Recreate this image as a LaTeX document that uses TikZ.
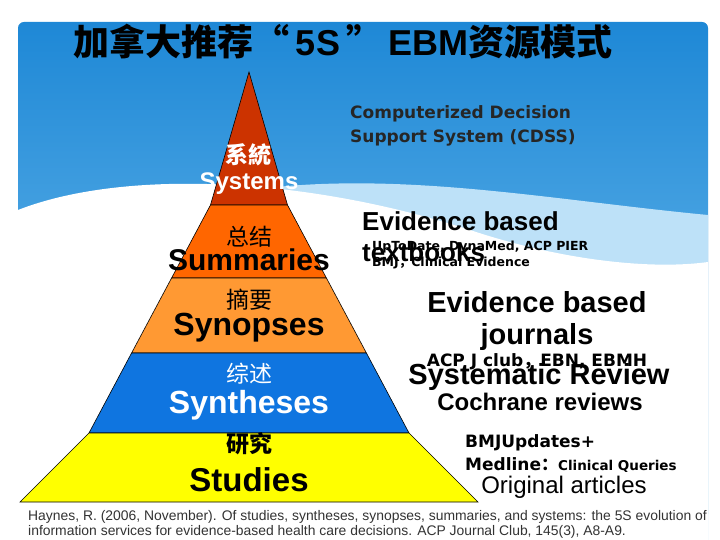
\documentclass[tikz,border=0pt]{standalone}
\usepackage{fontspec}
\setmainfont{Liberation Sans}
\newfontfamily\cjk{Noto Sans CJK SC}
\newfontfamily\dv{DejaVu Sans}
\begin{document}
\begin{tikzpicture}[x=1pt,y=-1pt,
  lay/.style={draw=black,line width=0.6pt},
  pl/.style={font=\bfseries\fontsize{32}{34}\selectfont,inner sep=0pt},
  zh/.style={font=\cjk\fontsize{23}{25}\selectfont,inner sep=0pt},
  sm/.style={font=\dv\bfseries\fontsize{17}{19}\selectfont,inner sep=0pt,anchor=west},
  big/.style={font=\bfseries\fontsize{29}{31}\selectfont,inner sep=0pt}]
\useasboundingbox (0,0) rectangle (720,540);
\fill[white] (0,0) rectangle (720,540);
\definecolor{bluetop}{HTML}{1E88D6}
\definecolor{bluelow}{HTML}{7CC4F0}
\shade[top color=bluetop,bottom color=bluelow,rounded corners=6pt] (18,22) rectangle (708,520);
\fill[white!50!bluelow] (250,190) .. controls (400,170) and (550,200) .. (708,215) -- (708,540) -- (18,540) -- cycle;
\fill[white] (18,210) .. controls (120,170) and (300,175) .. (470,230) .. controls (560,260) and (650,270) .. (708,262) -- (708,540) -- (18,540) -- cycle;
% pyramid
\definecolor{c1}{HTML}{CC3300}\definecolor{c2}{HTML}{FF6600}\definecolor{c3}{HTML}{FF9933}
\definecolor{c4}{HTML}{0F75E0}\definecolor{c5}{HTML}{FFFF00}
\fill[c1,lay] (249,72) -- (210.5,205) -- (287.5,205) -- cycle;
\fill[c2,lay] (210.5,205) -- (171.6,278) -- (326.4,278) -- (287.5,205) -- cycle;
\fill[c3,lay] (171.6,278) -- (131.6,353) -- (366.4,353) -- (326.4,278) -- cycle;
\fill[c4,lay] (131.6,353) -- (89,433) -- (409,433) -- (366.4,353) -- cycle;
\fill[c5,lay] (89,433) -- (20,502) -- (478,502) -- (409,433) -- cycle;
\node[zh,white,font=\cjk\bfseries\fontsize{23}{25}\selectfont] (z1) at (248,155) {系統};
\node[white,font=\bfseries\fontsize{24}{26}\selectfont,inner sep=0pt] (e1) at (249,184) {Systems};
\node[zh] (z2) at (249,237) {总结};
\node[pl,font=\bfseries\fontsize{30}{32}\selectfont] (e2) at (249,260) {Summaries};
\node[zh] (z3) at (249,300) {摘要};
\node[pl] (e3) at (249,328) {Synopses};
\node[zh,white] (z4) at (249,374) {综述};
\node[pl,white] (e4) at (249,405) {Syntheses};
\node[zh,font=\cjk\bfseries\fontsize{23}{25}\selectfont] (z5) at (249,444) {研究};
\node[pl,font=\bfseries\fontsize{33}{35}\selectfont] (e5) at (249,480) {Studies};
% title
\node[font=\bfseries\fontsize{36}{40}\selectfont,inner sep=0pt] (t) at (343,42) {{\cjk\bfseries 加拿大推荐“}\,5S\,{\cjk\bfseries ”}\,EBM{\cjk\bfseries 资源模式}};
% right texts
\node[sm,text=black!85] (cd1) at (350,114) {Computerized Decision};
\node[sm,text=black!85] (cd2) at (350,138) {Support System (CDSS)};
\node[big,anchor=west,font=\bfseries\fontsize{26}{28}\selectfont] (tb1) at (362,221) {Evidence based};
\node[big,anchor=west,font=\bfseries\fontsize{26}{28}\selectfont] (tb2) at (362,252) {textbooks};
\node[sm,font=\dv\bfseries\fontsize{12.5}{14}\selectfont] (u1) at (372,247) {UpToDate, DynaMed, ACP PIER};
\node[sm,font=\dv\bfseries\fontsize{12.5}{14}\selectfont] (u2) at (372,263) {BMJ{\cjk ，}Clinical Evidence};
\node[big] (j1) at (537,302) {Evidence based};
\node[big] (j2) at (537,337) {journals};
\node[sm,anchor=center] (acp) at (537,362) {ACP J club{\cjk ，}EBN, EBMH};
\node[big] (sr) at (539,377) {Systematic Review};
\node[big,font=\bfseries\fontsize{24}{26}\selectfont] (co) at (540,402) {Cochrane reviews};
\node[sm] (b1) at (465,443) {BMJUpdates+};
\node[sm] (b2) at (465,465) {Medline{\cjk ：}\fontsize{13.5}{15}\selectfont Clinical Queries};
\node[inner sep=0pt,font=\fontsize{24}{26}\selectfont] (oa) at (564,487) {Original articles};
\node[anchor=west,inner sep=0pt,text=black!80,font=\fontsize{13.9}{15}\selectfont,align=left] (cit) at (28,524) {Haynes, R. (2006, November). Of studies, syntheses, synopses, summaries, and systems: the 5S evolution of\\information services for evidence-based health care decisions. ACP Journal Club, 145(3), A8-A9.};
\end{tikzpicture}
\end{document}
